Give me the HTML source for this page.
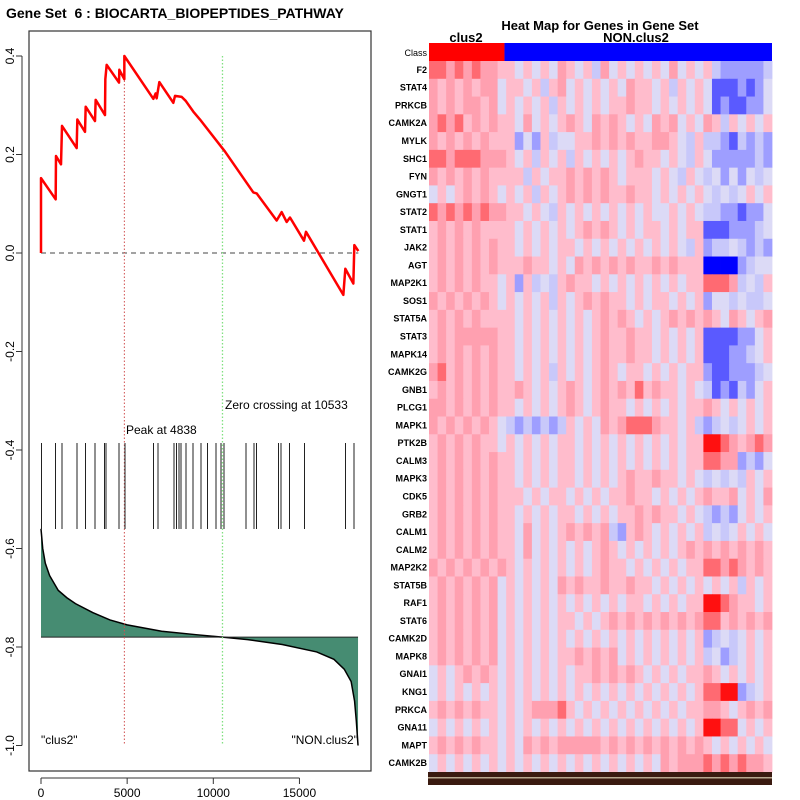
<!DOCTYPE html>
<html><head><meta charset="utf-8"><style>
html,body{margin:0;padding:0;background:#fff;}
svg{display:block;font-family:"Liberation Sans",sans-serif;}
</style></head><body>
<svg id="chart" width="800" height="800" viewBox="0 0 800 800">
<text x="6" y="18" font-size="14" font-weight="bold" style="white-space:pre">Gene Set  6 : BIOCARTA_BIOPEPTIDES_PATHWAY</text>
<rect x="29" y="31" width="342" height="740" fill="none" stroke="#333" stroke-width="1.2"/>
<g id="left"></g>
<g id="heat"></g>
<text x="600" y="30" font-size="13" font-weight="bold" text-anchor="middle">Heat Map for Genes in Gene Set</text>
<text x="466" y="42" font-size="13" font-weight="bold" text-anchor="middle">clus2</text>
<text x="636" y="42" font-size="13" font-weight="bold" text-anchor="middle">NON.clus2</text>
</svg>
<script>
const esRanks=[0,0,851,870,1161,1219,2070,2109,2554,2593,3134,3173,3714,3734,3811,4527,4546,4836,4838,6520,6655,6713,6868,7680,7777,8164,8396,8841,9228,10679,12323,12516,13677,13967,14257,14451,15263,15380,17547,17663,18128,18186,18418];
const esValues=[0,0.152,0.109,0.197,0.180,0.258,0.213,0.271,0.246,0.297,0.268,0.311,0.280,0.353,0.382,0.346,0.372,0.353,0.400,0.313,0.324,0.314,0.347,0.305,0.319,0.317,0.309,0.287,0.271,0.206,0.123,0.121,0.066,0.083,0.063,0.072,0.025,0.043,-0.085,-0.032,-0.062,0.016,0.004];
const hitRanks=[29,842,1219,2089,2583,3134,3685,3772,4527,4875,6529,6790,7719,7864,8009,8125,8415,8822,9286,9663,10157,10447,10621,11898,12362,12507,13784,13929,14423,15293,17673,18166];
const metricRanks=[0,100,250,500,1000,1500,2000,3000,4000,5000,7000,9000,10533,12000,14000,16000,17000,17600,18000,18200,18300,18400];
const metricValues=[-0.56,-0.60,-0.63,-0.655,-0.685,-0.70,-0.712,-0.73,-0.745,-0.755,-0.768,-0.775,-0.78,-0.785,-0.795,-0.81,-0.825,-0.845,-0.87,-0.91,-0.95,-1.0];
const xTicks=[0,5000,10000,15000];
const yTicks=[0.4,0.2,0.0,-0.2,-0.4,-0.6,-0.8,-1.0];
const peakRank=4838, zeroRank=10533, metricBaseline=-0.78;
const genes=["F2","STAT4","PRKCB","CAMK2A","MYLK","SHC1","FYN","GNGT1","STAT2","STAT1","JAK2","AGT","MAP2K1","SOS1","STAT5A","STAT3","MAPK14","CAMK2G","GNB1","PLCG1","MAPK1","PTK2B","CALM3","MAPK3","CDK5","GRB2","CALM1","CALM2","MAP2K2","STAT5B","RAF1","STAT6","CAMK2D","MAPK8","GNAI1","KNG1","PRKCA","GNA11","MAPT","CAMK2B"];
const heatRows=["7767676655454546545364545454645453222223","6565656645545356454545465545354541112124","6565665645454535454545565545454541211224","6767565655464545654656545465645465354545","6565656555242534455656565566543533213232","7767776665453545354545456554543542222232","6565656555535455656565455545435434242434","4545656545453545656565565545454543434545","7676767665545435454545454544545433221224","5656565555454545456565454554545511122234","5656565655454545545454545454543523343232","5656565655565545465656565565655500002344","5656565545253435655454545454545577763435","6565656545454535456565545455454524434334","5656565555454545454565654545656565465456","5656666655454545454565565545454511112245","5656565655454545454565565545454511122345","6756565655454535454565455454545521122234","5656565655654545654565657565545431213245","6656565655454545654565545454545565454545","6565656543232323545465677765545323434545","5656565545454545545454545454545588765676","5656565655454545545454545454545577662324","5656565655454545545454565565545434343545","5656565655545455454545565545454565564546","5656565655454545545454556565545432324545","5656565655464545656563256545454534345454","5656565655464545454565454545456565656565","6565656565454545454565545454545577676565","5656565645454546565565565545454545453545","5656565645454545454545455454545588765545","5656565645454545545456565656565677565656","5656565645454545454545454545454523434545","5656565645454545565656454545454534234545","4545656545454545455656565454545565454545","4545454545454545454545454545454577882345","5656565545456667545454545454545566545656","4545454545454545454545454545454588774545","5656565545465656666656565656565654545454","4545454545454545454545454546566676767665"];
const clus2Fraction=0.22;

const NS="http://www.w3.org/2000/svg";
function mk(tag,attrs,parent){const e=document.createElementNS(NS,tag);for(const k in attrs)e.setAttribute(k,attrs[k]);parent.appendChild(e);return e;}
const X=r=>41+r*0.01723;
const Y=v=>253-v*492.5;
const L=document.getElementById('left');

let ya=mk('line',{x1:22,x2:22,y1:Y(0.4),y2:Y(-1.0),stroke:'#333'},L);


yTicks.forEach(v=>{
  const t=mk('line',{x1:16,x2:22,y1:Y(v),y2:Y(v),stroke:'#333'},L);
  
  
  const tx=mk('text',{x:14,y:Y(v),'font-size':12,'text-anchor':'middle',transform:`rotate(-90 14 ${Y(v)})`},L);
  tx.textContent=v.toFixed(1);
  
  
});
let xa=mk('line',{x1:X(0),x2:X(15000),y1:778,y2:778,stroke:'#333'},L);


xTicks.forEach(v=>{
  const t=mk('line',{x1:X(v),x2:X(v),y1:778,y2:784,stroke:'#333'},L);
  
  
  const tx=mk('text',{x:X(v),y:797,'font-size':12,'text-anchor':'middle'},L);
  tx.textContent=String(v);
  
  
});
let d=`M${X(metricRanks[0])},${Y(metricBaseline)}`;
metricRanks.forEach((r,i)=>{d+=` L${X(r)},${Y(metricValues[i])}`;});
d+=` L${X(metricRanks[metricRanks.length-1])},${Y(metricBaseline)} Z`;
const mf=mk('path',{d:d,fill:'#468c72',stroke:'none'},L);


let dl='';metricRanks.forEach((r,i)=>{dl+=(i?' L':'M')+X(r)+','+Y(metricValues[i]);});
const ml=mk('path',{d:dl,fill:'none',stroke:'#000','stroke-width':1.5},L);


const bl=mk('line',{x1:X(0),x2:X(metricRanks[metricRanks.length-1]),y1:Y(metricBaseline),y2:Y(metricBaseline),stroke:'#222','stroke-width':1},L);


const zl=mk('line',{x1:X(0),x2:X(18418),y1:Y(0),y2:Y(0),stroke:'#444','stroke-dasharray':'5,4'},L);


const pl=mk('line',{x1:X(peakRank),x2:X(peakRank),y1:Y(0.4),y2:Y(-1.0),stroke:'#d05050','stroke-dasharray':'1.5,2'},L);


const zc=mk('line',{x1:X(zeroRank),x2:X(zeroRank),y1:Y(0.4),y2:Y(-1.0),stroke:'#80e080','stroke-dasharray':'1.5,2','stroke-width':1.3},L);


hitRanks.forEach(r=>{
  const h=mk('line',{x1:X(r),x2:X(r),y1:443,y2:529,stroke:'#222','stroke-width':1},L);
  
  
});
let de='';esRanks.forEach((r,i)=>{de+=(i?' L':'M')+X(r)+','+Y(esValues[i]);});
const el=mk('path',{d:de,fill:'none',stroke:'#ff0000','stroke-width':2.5,'stroke-linejoin':'round'},L);


function txt(x,y,s,name,anchor){const t=mk('text',{x:x,y:y,'font-size':12,'text-anchor':anchor||'start'},L);t.textContent=s;}
txt(126,434,'Peak at 4838','peak-annotation');
txt(225,409,'Zero crossing at 10533','zero-crossing-annotation');
txt(41,744,'"clus2"','clus2-end-label');
txt(358,744,'"NON.clus2"','non-clus2-end-label','end');

const H=document.getElementById('heat');
const hx0=429,hx1=772,hTop=61,rowH=(772-61)/genes.length;
const palette=['#0000ff','#5a5aff','#9e9eff','#c8c8fa','#dcdaf6','#ffbccc','#ffa0b0','#ff6a72','#ff1010'];
const cr=mk('rect',{x:hx0,y:43,width:(hx1-hx0)*clus2Fraction,height:18,fill:'#ff0000'},H);


const cb=mk('rect',{x:hx0+(hx1-hx0)*clus2Fraction,y:43,width:(hx1-hx0)*(1-clus2Fraction),height:18,fill:'#0000ff'},H);


const ct=mk('text',{x:hx0-2,y:56,'font-size':9,'text-anchor':'end'},H);
ct.textContent='Class';


genes.forEach((g,i)=>{
  const s=heatRows[i];const n=s.length;const cw=(hx1-hx0)/n;
  for(let j=0;j<n;j++){
    const c=mk('rect',{x:hx0+j*cw,y:hTop+i*rowH,width:cw+0.4,height:rowH+0.4,fill:palette[+s[j]]},H);
    
    
  }
  const t=mk('text',{x:hx0-2,y:hTop+i*rowH+rowH/2+3,'font-size':9,'font-weight':'bold','text-anchor':'end'},H);
  t.textContent=g;
  
  
});
const bs=mk('rect',{x:428,y:772,width:344,height:13,fill:'#3a1a10'},H);


const bs2=mk('rect',{x:428,y:777,width:344,height:1.5,fill:'#b8a890'},H);


</script>
</body></html>
